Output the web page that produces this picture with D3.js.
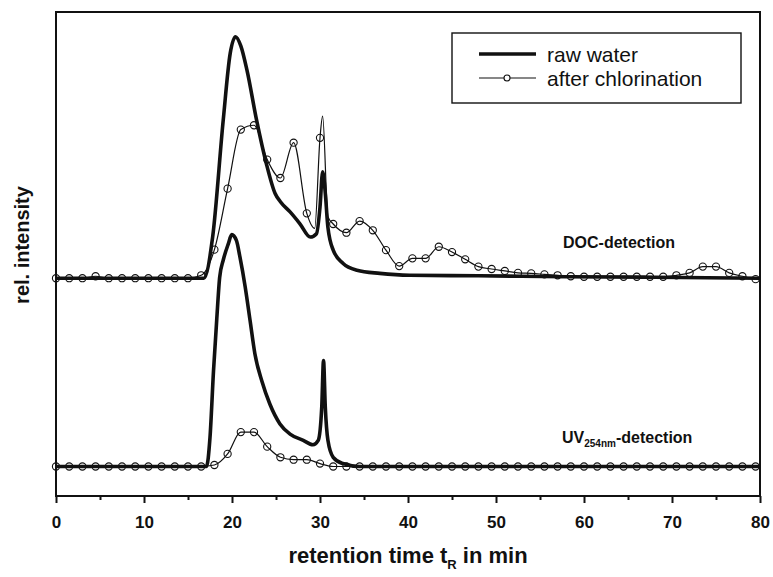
<!DOCTYPE html>
<html>
<head>
<meta charset="utf-8">
<script src="https://cdn.jsdelivr.net/npm/d3@7/dist/d3.min.js"></script>
<style>
  html, body { margin: 0; padding: 0; background: #fff; }
  svg { display: block; font-family: "Liberation Sans", Arial, sans-serif; }
</style>
</head>
<body>
<svg id="chart" width="773" height="577"></svg>
<script>
// ---- data -------------------------------------------------------------
// x axis ticks (retention time, min)
const xTickValues = [0, 10, 20, 30, 40, 50, 60, 70, 80];
const xMinorTicks = [5, 15, 25, 35, 45, 55, 65, 75];

// vertical offsets of the two stacked detector traces (rel. intensity units)
const docOffset = 45.0;
const uvOffset = 6.1;

// DOC detection, raw water (thick trace)
const docRawTime   = [0, 16.8, 17.8, 19.0, 19.8, 20.4, 21.0, 21.7, 22.8, 23.9, 24.9, 25.5, 26.6, 27.7, 28.9, 29.6, 30.0, 30.3, 30.6, 30.9, 31.5, 32.6, 34.2, 36.8, 40.2, 48, 58, 68, 80];
const docRawSignal = [0, 0,    8.5,  32.6, 46.5, 49.9, 48.0, 43.0, 32.6, 23.7, 17.5, 15.8, 13.7, 11.3, 8.5,  9.2,  14.7, 22.0, 17.6, 10.5, 5.8,  3.1,  1.65, 1.0,  0.6,  0.5, 0.3, 0.2, 0];

// DOC detection, after chlorination: sampled every 1.5 min (marked points)
const chlorStep = 1.5;
const docChlorSignal = [
  0, 0, 0, 0.4, 0, 0, 0, 0, 0, 0,
  0, 0.6, 5.9, 18.5, 30.7, 31.6, 24.5, 20.7, 28.0, 13.4,
  29.0, 11.2, 9.4, 11.8, 9.9, 5.8, 2.5, 4.1, 4.1, 6.5,
  5.4, 3.9, 2.4, 1.9, 1.5, 1.1, 1.0, 0.8, 0.6, 0.4,
  0.3, 0.3, 0.3, 0.3, 0.3, 0.3, 0.3, 0.6, 1.1, 2.4,
  2.4, 1.1, 0.4, -0.2
];
// extra unmarked points resolving the sharp peak near 30 min
const docChlorPeakTime   = [29.4, 30.3, 30.9];
const docChlorPeakSignal = [10.3, 33.5, 12.7];

// UV254 detection, raw water (thick trace)
const uvRawTime   = [0, 17.1, 17.5, 17.9, 18.26, 18.6, 19.0, 19.6, 19.97, 20.5, 20.9, 21.5, 22.05, 22.6, 23.4, 24.3, 25.45, 26.6, 28.1, 29.2, 29.8, 30.2, 30.4, 30.6, 30.9, 31.5, 32.6, 34.5, 80];
const uvRawSignal = [0, 0,    6.0,  19.8, 30.2,  39.1, 42.6, 46.1, 47.9,  46.7, 43.3, 37.1, 30.2,  23.3, 17.6, 12.9, 8.8,   6.7,  5.4,  4.5,  5.4,  12.3, 21.9, 12.3, 5.4,  1.9,  0.6,  0,    0];

// UV254 detection, after chlorination, sampled every 1.5 min
const uvChlorSignal = [
  0, 0, 0, 0, 0, 0, 0, 0, 0, 0,
  0, 0, 0.3, 2.6, 7.1, 7.1, 4.1, 1.9, 1.4, 1.4,
  0.6, 0, 0, 0, 0, 0, 0, 0, 0, 0,
  0, 0, 0, 0, 0, 0, 0, 0, 0, 0,
  0, 0, 0, 0, 0, 0, 0, 0, 0, 0,
  0, 0, 0, 0
];

// ---- layout -----------------------------------------------------------
const svg = d3.select("#chart");
const frame = { left: 56, right: 760, top: 12, bottom: 496 };

const x = d3.scaleLinear().domain([0, 80]).range([frame.left, frame.right]);
const y = d3.scaleLinear().domain([0, 100]).range([frame.bottom, frame.top]);

const ink = "#111";

function pairs(times, values, offset) {
  return times.map((t, i) => ({ t, v: values[i] + offset }));
}
function sampled(values, offset) {
  return values.map((v, i) => ({ t: i * chlorStep, v: v + offset, marked: true }));
}

const line = d3.line()
  .x(d => x(d.t))
  .y(d => y(d.v))
  .curve(d3.curveMonotoneX);

// after-chlorination DOC: marked samples merged with the peak points
const docChlor = sampled(docChlorSignal, docOffset)
  .concat(pairs(docChlorPeakTime, docChlorPeakSignal, docOffset))
  .sort((a, b) => a.t - b.t);
const uvChlor = sampled(uvChlorSignal, uvOffset);

const plot = svg.append("g");

// thin traces with open circles
[docChlor, uvChlor].forEach(series => {
  plot.append("path")
    .datum(series)
    .attr("d", line)
    .attr("fill", "none")
    .attr("stroke", ink)
    .attr("stroke-width", 1.2);
  plot.selectAll(null)
    .data(series.filter(d => d.marked))
    .enter().append("circle")
    .attr("cx", d => x(d.t))
    .attr("cy", d => y(d.v))
    .attr("r", 3.6)
    .attr("fill", "none")
    .attr("stroke", ink)
    .attr("stroke-width", 1.1);
});

// thick raw-water traces
[pairs(docRawTime, docRawSignal, docOffset), pairs(uvRawTime, uvRawSignal, uvOffset)].forEach(series => {
  plot.append("path")
    .datum(series)
    .attr("d", line)
    .attr("fill", "none")
    .attr("stroke", ink)
    .attr("stroke-width", 3.6)
    .attr("stroke-linejoin", "round");
});

// ---- frame and axes ---------------------------------------------------
svg.append("rect")
  .attr("x", frame.left).attr("y", frame.top)
  .attr("width", frame.right - frame.left)
  .attr("height", frame.bottom - frame.top)
  .attr("fill", "none")
  .attr("stroke", ink)
  .attr("stroke-width", 2);

const xAxis = svg.append("g")
  .attr("transform", `translate(0,${frame.bottom})`)
  .call(d3.axisBottom(x).tickValues(xTickValues).tickSize(7).tickPadding(13).tickFormat(d3.format("d")));
xAxis.select(".domain").remove();
xAxis.selectAll(".tick line").attr("stroke", ink).attr("stroke-width", 2);
xAxis.selectAll(".tick text")
  .attr("fill", ink)
  .attr("font-weight", "bold")
  .attr("font-size", 17);

const xMinor = svg.append("g")
  .attr("transform", `translate(0,${frame.bottom})`)
  .call(d3.axisBottom(x).tickValues(xMinorTicks).tickSize(4).tickFormat(""));
xMinor.select(".domain").remove();
xMinor.selectAll(".tick line").attr("stroke", ink).attr("stroke-width", 2);

// axis titles
const xTitle = svg.append("text")
  .attr("x", (frame.left + frame.right) / 2)
  .attr("y", 563)
  .attr("text-anchor", "middle")
  .attr("font-weight", "bold")
  .attr("font-size", 22)
  .attr("fill", ink);
xTitle.append("tspan").text("retention time t");
xTitle.append("tspan").attr("font-size", 13).attr("dy", 6).text("R");
xTitle.append("tspan").attr("dy", -6).text(" in min");

svg.append("text")
  .attr("transform", `translate(29,${(frame.top + frame.bottom) / 2 - 9}) rotate(-90)`)
  .attr("text-anchor", "middle")
  .attr("font-weight", "bold")
  .attr("font-size", 20)
  .attr("fill", ink)
  .text("rel. intensity");

// trace labels
svg.append("text")
  .attr("x", 563).attr("y", 248)
  .attr("font-weight", "bold")
  .attr("font-size", 16)
  .attr("fill", ink)
  .text("DOC-detection");

const uvLabel = svg.append("text")
  .attr("x", 562).attr("y", 443)
  .attr("font-weight", "bold")
  .attr("font-size", 16)
  .attr("fill", ink);
uvLabel.append("tspan").text("UV");
uvLabel.append("tspan").attr("font-size", 10).attr("dy", 4).text("254nm");
uvLabel.append("tspan").attr("dy", -4).text("-detection");

// ---- legend -----------------------------------------------------------
const legend = svg.append("g");
legend.append("rect")
  .attr("x", 452).attr("y", 33)
  .attr("width", 289).attr("height", 70)
  .attr("fill", "#fff")
  .attr("stroke", ink)
  .attr("stroke-width", 1.4);

legend.append("line")
  .attr("x1", 479).attr("x2", 536).attr("y1", 54).attr("y2", 54)
  .attr("stroke", ink).attr("stroke-width", 3.6);
legend.append("text")
  .attr("x", 547).attr("y", 62)
  .attr("font-size", 21).attr("fill", ink)
  .text("raw water");

legend.append("line")
  .attr("x1", 479).attr("x2", 536).attr("y1", 78).attr("y2", 78)
  .attr("stroke", ink).attr("stroke-width", 1.2);
legend.append("circle")
  .attr("cx", 507).attr("cy", 78).attr("r", 3)
  .attr("fill", "#fff").attr("stroke", ink).attr("stroke-width", 1.1);
legend.append("text")
  .attr("x", 547).attr("y", 86)
  .attr("font-size", 21).attr("fill", ink)
  .text("after chlorination");
</script>
</body>
</html>
